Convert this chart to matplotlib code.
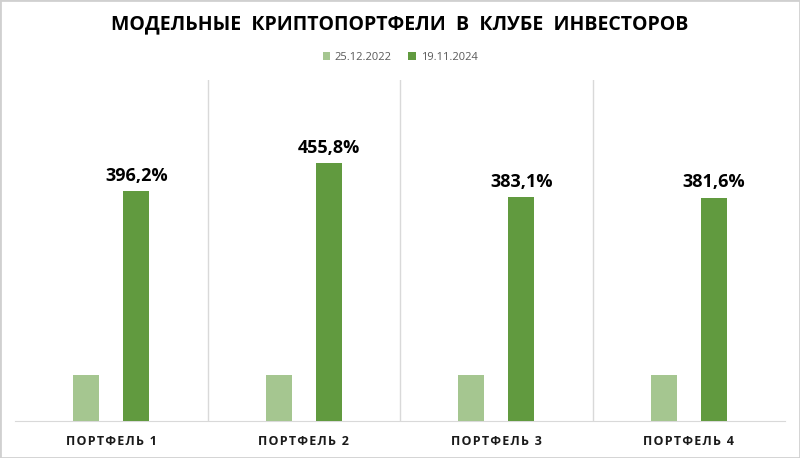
import matplotlib.pyplot as plt
import numpy as np
from matplotlib.patches import Rectangle

categories = ["ПОРТФЕЛЬ 1", "ПОРТФЕЛЬ 2", "ПОРТФЕЛЬ 3", "ПОРТФЕЛЬ 4"]
series_names = ["25.12.2022", "19.11.2024"]
start_values = [100, 100, 100, 100]
growth_pct = [396.2, 455.8, 383.1, 381.6]
end_values = [100 + g for g in growth_pct]
labels = ["396,2%", "455,8%", "383,1%", "381,6%"]

light = "#A5C690"
dark = "#619A3F"

plt.rcParams['font.family'] = ['Open Sans', 'DejaVu Sans']


def spaced(s):
    # crude letter spacing with hair spaces
    return "\u200a".join(s)


fig = plt.figure(figsize=(8, 4.58), dpi=100)
ax = fig.add_axes([15 / 800, 37 / 458, 770 / 800, 341 / 458])

x = np.arange(len(categories))
w = 0.135
off = 0.13
ax.bar(x - off, start_values, w, color=light, label=series_names[0], zorder=3)
ax.bar(x + off, end_values, w, color=dark, label=series_names[1], zorder=3)

for i, v in enumerate(end_values):
    ax.annotate(labels[i], xy=(x[i] + off, v), xytext=(0, 7.5),
                textcoords='offset points', ha='center', va='baseline',
                fontsize=13, fontweight='bold', color='black')

ax.set_xlim(-0.5, len(categories) - 0.5)
ax.set_ylim(0, 736)
ax.set_yticks([])
ax.set_xticks(x)
ax.set_xticklabels([spaced(c) for c in categories], fontsize=9, fontweight='bold', color='#1a1a1a')
ax.tick_params(axis='x', length=0, pad=10)
for b in [0.5, 1.5, 2.5]:
    ax.axvline(b, color='#D9D9D9', lw=1, zorder=1)
for s in ['top', 'left', 'right']:
    ax.spines[s].set_visible(False)
ax.spines['bottom'].set_color('#D9D9D9')

fig.text(0.5, 1 - 24 / 458, "МОДЕЛЬНЫЕ  КРИПТОПОРТФЕЛИ  В  КЛУБЕ  ИНВЕСТОРОВ",
         ha='center', va='center', fontsize=14, fontweight='bold', color='black')
fig.legend(loc='center', bbox_to_anchor=(0.5, 1 - 57 / 458), ncol=2, frameon=False,
           fontsize=8, handlelength=0.7, handleheight=0.7, columnspacing=1.5,
           handletextpad=0.4, labelcolor='#595959')

fig.patches.append(Rectangle((0, 0), 1, 1, transform=fig.transFigure, fill=False,
                             edgecolor='#D0D0D0', lw=2))

fig.savefig("out.png", dpi=100)
